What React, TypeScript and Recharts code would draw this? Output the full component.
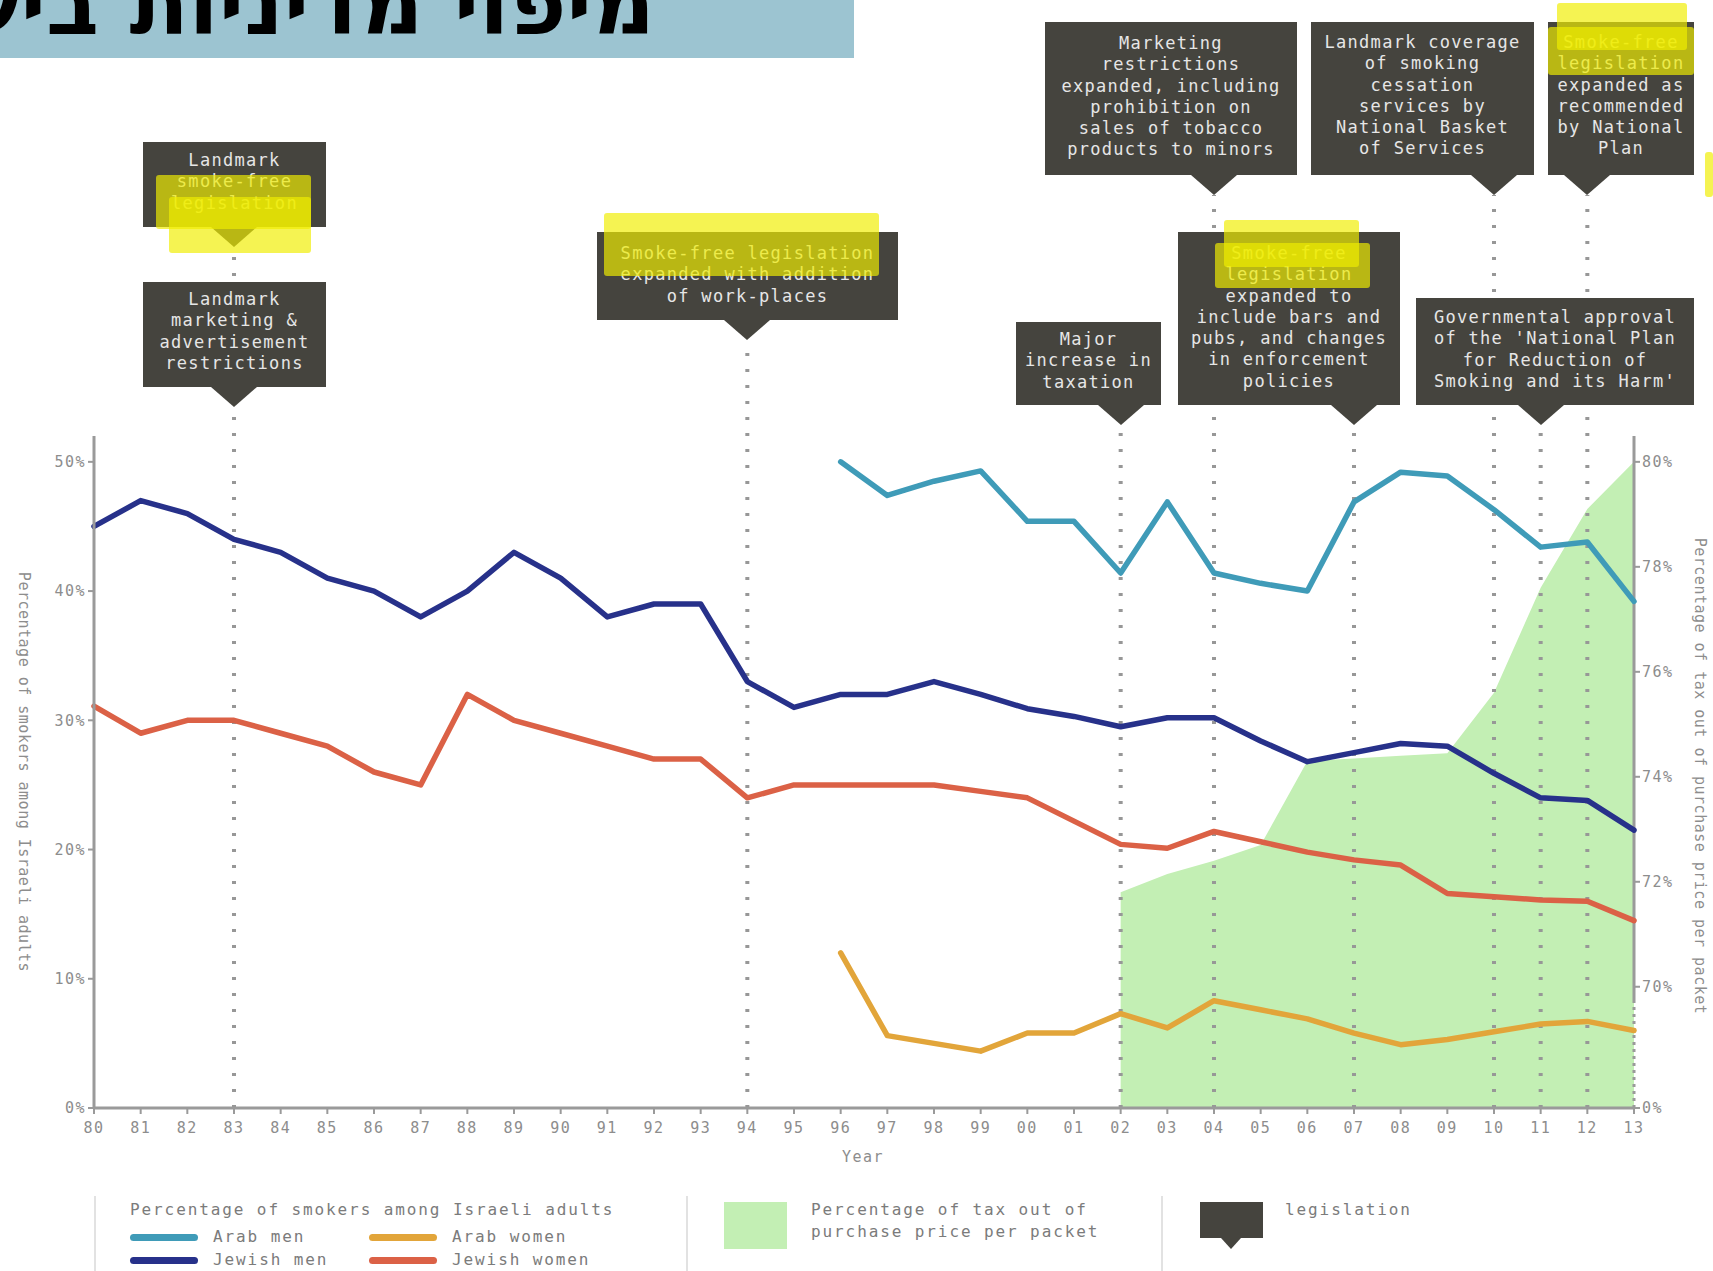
import React from 'react';
import { ComposedChart, Line, Area, XAxis, YAxis, ReferenceLine } from 'recharts';

// ---------------- data ----------------
const years = ['80','81','82','83','84','85','86','87','88','89','90','91','92','93','94','95','96','97','98','99','00','01','02','03','04','05','06','07','08','09','10','11','12','13'];

const arabMen = [null,null,null,null,null,null,null,null,null,null,null,null,null,null,null,null,
  50, 47.4, 48.5, 49.3, 45.4, 45.4, 41.4, 46.9, 41.4, 40.6, 40.0, 46.9, 49.2, 48.9, 46.3, 43.4, 43.8, 39.2];
const arabWomen = [null,null,null,null,null,null,null,null,null,null,null,null,null,null,null,null,
  12.0, 5.6, 5.0, 4.4, 5.8, 5.8, 7.3, 6.2, 8.3, 7.6, 6.9, 5.8, 4.9, 5.3, 5.9, 6.5, 6.7, 6.0];
const jewishMen = [45, 47, 46, 44, 43, 41, 40, 38, 40, 43,
  41, 38, 39, 39, 33, 31, 32, 32, 33, 32,
  30.9, 30.3, 29.5, 30.2, 30.2, 28.4, 26.8, 27.5, 28.2, 28.0,
  25.9, 24.0, 23.8, 21.5];
const jewishWomen = [31.1, 29, 30, 30, 29, 28, 26, 25, 32, 30,
  29, 28, 27, 27, 24, 25, 25, 25, 25, 24.5,
  24, 22.2, 20.4, 20.1, 21.4, 20.6, 19.8, 19.2, 18.8, 16.6,
  16.35, 16.1, 16.0, 14.5];
// tax share of packet price (%)
const taxShare = [null,null,null,null,null,null,null,null,null,null,null,null,null,null,null,null,null,null,null,null,null,null,
  71.8, 72.15, 72.4, 72.7, 74.3, 74.35, 74.4, 74.45, 75.6, 77.6, 79.1, 80];

const leftTicks = [0, 10, 20, 30, 40, 50];
const rightTicks = [0, 70, 72, 74, 76, 78, 80];

const series = [
  { key: 'arabMen', name: 'Arab men', color: '#3f9bb8' },
  { key: 'arabWomen', name: 'Arab women', color: '#e2a53a' },
  { key: 'jewishMen', name: 'Jewish men', color: '#27318a' },
  { key: 'jewishWomen', name: 'Jewish women', color: '#db6146' },
];
const legendOrder = [['arabMen', 'arabWomen'], ['jewishMen', 'jewishWomen']];

const legislationYears = ['83', '94', '02', '04', '07', '10', '11', '12'];

// ---------------- layout ----------------
const W = 1713;
const H = 1271;
const PLOT_LEFT = 94;
const PLOT_RIGHT = 1634;
const PLOT_TOP = 436;
const PLOT_BOTTOM = 1108;
const LEFT_MAX = 52;
const PX_PER_LEFT = (PLOT_BOTTOM - PLOT_TOP) / LEFT_MAX;

// broken right axis: 0..70 compressed into BREAK_SPAN units, 70..80 linear
const BREAK_SPAN = 2.31;
const toTaxAxis = (v: number | null) => (v == null ? null : v >= 70 ? BREAK_SPAN + (v - 70) : (v / 70) * BREAK_SPAN);
const RIGHT_MAX = (BREAK_SPAN + 10) * LEFT_MAX / 50;
const RIGHT_SOLID_FROM = 2.0;

const pxToLeft = (py: number) => (PLOT_BOTTOM - py) / PX_PER_LEFT;
const xOf = (year: string) => PLOT_LEFT + years.indexOf(year) * (PLOT_RIGHT - PLOT_LEFT) / (years.length - 1);

const legislationTopPx: Record<string, number> = { '83': 250, '94': 340, '02': 426, '04': 195, '07': 426, '10': 195, '11': 426, '12': 195 };

const data = years.map((y, i) => ({
  year: y,
  arabMen: arabMen[i],
  arabWomen: arabWomen[i],
  jewishMen: jewishMen[i],
  jewishWomen: jewishWomen[i],
  tax: toTaxAxis(taxShare[i]),
}));

const MONO = "'DejaVu Sans Mono', 'Liberation Mono', monospace";
const BOX = '#45443e';

type Callout = { year: string; left: number; top: number; width: number; height: number; padTop: number; lines: string[] };
const callouts: Callout[] = [
  { year: '83', left: 143, top: 142, width: 183, height: 85, padTop: 8, lines: ['Landmark', 'smoke-free', 'legislation'] },
  { year: '83', left: 143, top: 282, width: 183, height: 105, padTop: 7, lines: ['Landmark', 'marketing &', 'advertisement', 'restrictions'] },
  { year: '94', left: 597, top: 232, width: 301, height: 88, padTop: 11, lines: ['Smoke-free legislation', 'expanded with addition', 'of work-places'] },
  { year: '02', left: 1016, top: 322, width: 145, height: 83, padTop: 7, lines: ['Major', 'increase in', 'taxation'] },
  { year: '04', left: 1045, top: 22, width: 252, height: 153, padTop: 11, lines: ['Marketing', 'restrictions', 'expanded, including', 'prohibition on', 'sales of tobacco', 'products to minors'] },
  { year: '07', left: 1178, top: 232, width: 222, height: 173, padTop: 11, lines: ['Smoke-free', 'legislation', 'expanded to', 'include bars and', 'pubs, and changes', 'in enforcement', 'policies'] },
  { year: '10', left: 1311, top: 22, width: 223, height: 153, padTop: 10, lines: ['Landmark coverage', 'of smoking', 'cessation', 'services by', 'National Basket', 'of Services'] },
  { year: '12', left: 1548, top: 22, width: 146, height: 153, padTop: 10, lines: ['Smoke-free', 'legislation', 'expanded as', 'recommended', 'by National', 'Plan'] },
  { year: '11', left: 1416, top: 298, width: 278, height: 107, padTop: 9, lines: ['Governmental approval', "of the 'National Plan", 'for Reduction of', "Smoking and its Harm'"] },
];

const highlights = [
  [156, 175, 155, 54], [169, 197, 142, 56],
  [604, 213, 275, 63],
  [1224, 220, 135, 47], [1215, 243, 155, 45],
  [1557, 3, 130, 47], [1548, 27, 146, 48],
  [1705, 152, 8, 45],
];

const textStyle: React.CSSProperties = { fontFamily: MONO, fontSize: 16, letterSpacing: 1.9, whiteSpace: 'nowrap' };
const boxTextStyle: React.CSSProperties = { fontFamily: MONO, fontSize: 17, letterSpacing: 1.3, whiteSpace: 'nowrap' };

function CalloutBox({ c }: { c: Callout }) {
  const px = xOf(c.year);
  return (
    <>
      <div style={{ position: 'absolute', left: c.left, top: c.top, width: c.width, height: c.height, background: BOX, boxSizing: 'border-box', paddingTop: c.padTop, color: '#e6e6e6', textAlign: 'center', ...boxTextStyle, lineHeight: '21.3px' }}>
        {c.lines.map((l, i) => <div key={i}>{l}</div>)}
      </div>
      <div style={{ position: 'absolute', left: px - 23, top: c.top + c.height, width: 0, height: 0, borderLeft: '23px solid transparent', borderRight: '23px solid transparent', borderTop: `20px solid ${BOX}` }} />
    </>
  );
}

const tickStyle = { fontFamily: MONO, fontSize: 15, letterSpacing: 1.5, fill: '#8d8d8d' };
const axisTitleStyle = { fontFamily: MONO, fontSize: 15, letterSpacing: 0.5, fill: '#8d8d8d' };

export default function App() {
  const rightLabel = (v: number) => {
    const t = rightTicks.find((r) => Math.abs((toTaxAxis(r) as number) - v) < 1e-6);
    return `${t}%`;
  };
  return (
    <div style={{ position: 'absolute', left: 0, top: 0, width: W, height: H, background: '#fff', overflow: 'hidden' }}>
      {/* title banner */}
      <div style={{ position: 'absolute', left: 0, top: 0, width: 854, height: 58, background: '#9cc4d1', overflow: 'hidden' }}>
        <div dir="rtl" style={{ position: 'absolute', right: 854 - 655, top: -39, fontFamily: "'DejaVu Sans', sans-serif", fontWeight: 'bold', fontSize: 87, lineHeight: '87px', color: '#000', whiteSpace: 'nowrap' }}>
          מיפוי מדיניות בישראל
        </div>
      </div>

      <div style={{ position: 'absolute', left: 0, top: 0 }}>
        <ComposedChart width={W} height={H} data={data} margin={{ top: PLOT_TOP, right: 0, bottom: 0, left: 0 }}>
          <XAxis dataKey="year" scale="point" padding={{ left: 0, right: 0 }} interval={0} height={H - PLOT_BOTTOM}
            tick={tickStyle} tickSize={6} tickMargin={8}
            axisLine={{ stroke: '#9a9a9a', strokeWidth: 3 }} tickLine={{ stroke: '#9a9a9a', strokeWidth: 2 }}
            label={() => (
              <text x={863} y={1162} textAnchor="middle" style={{ fontFamily: MONO, fontSize: 15, letterSpacing: 1.5, fill: '#8d8d8d' }}>Year</text>
            )} />
          <YAxis yAxisId="left" orientation="left" width={PLOT_LEFT} domain={[0, LEFT_MAX]} allowDataOverflow ticks={leftTicks}
            tickFormatter={(v: number) => `${v}%`} tick={tickStyle} tickSize={6} tickMargin={2}
            axisLine={{ stroke: '#9a9a9a', strokeWidth: 3 }} tickLine={{ stroke: '#9a9a9a', strokeWidth: 2 }}
            label={() => (
              <text transform={`translate(24, ${(PLOT_TOP + PLOT_BOTTOM) / 2}) rotate(90)`} textAnchor="middle" dominantBaseline="central"
                style={axisTitleStyle}>Percentage of smokers among Israeli adults</text>
            )} />
          <YAxis yAxisId="right" orientation="right" width={W - PLOT_RIGHT} domain={[0, RIGHT_MAX]} allowDataOverflow
            ticks={rightTicks.map((r) => toTaxAxis(r) as number)} tickFormatter={rightLabel}
            tick={tickStyle} tickSize={6} tickMargin={2} axisLine={false} tickLine={{ stroke: '#9a9a9a', strokeWidth: 2 }}
            label={() => (
              <text transform={`translate(1700, ${(PLOT_TOP + PLOT_BOTTOM) / 2 + 4}) rotate(90)`} textAnchor="middle" dominantBaseline="central"
                style={axisTitleStyle}>Percentage of tax out of purchase price per packet</text>
            )} />

          <Area yAxisId="right" dataKey="tax" type="linear" fill="#c3efb4" fillOpacity={1} stroke="none" isAnimationActive={false} connectNulls={false} />

          {legislationYears.map((y) => (
            <ReferenceLine key={y} yAxisId="left" ifOverflow="visible"
              segment={[{ x: y, y: 0 }, { x: y, y: pxToLeft(legislationTopPx[y]) }]}
              stroke="#979797" strokeWidth={4} strokeDasharray="3 13" />
          ))}
          <ReferenceLine yAxisId="right" ifOverflow="visible" segment={[{ x: '13', y: 0 }, { x: '13', y: RIGHT_SOLID_FROM }]}
            stroke="#9a9a9a" strokeWidth={3} strokeDasharray="3 4" />
          <ReferenceLine yAxisId="right" ifOverflow="visible" segment={[{ x: '13', y: RIGHT_SOLID_FROM }, { x: '13', y: RIGHT_MAX }]}
            stroke="#9a9a9a" strokeWidth={3} />

          {series.map((s) => (
            <Line key={s.key} yAxisId="left" dataKey={s.key} name={s.name} type="linear" stroke={s.color} strokeWidth={5.5}
              strokeLinejoin="round" strokeLinecap="round" dot={false} activeDot={false} isAnimationActive={false} connectNulls={false} />
          ))}
        </ComposedChart>
      </div>

      {/* legislation callouts */}
      {callouts.map((c, i) => <CalloutBox key={i} c={c} />)}

      {/* highlighter marks */}
      {highlights.map(([x, y, w, h], i) => (
        <div key={i} style={{ position: 'absolute', left: x, top: y, width: w, height: h, background: 'rgba(240,238,0,0.68)', borderRadius: 3 }} />
      ))}

      {/* legend */}
      {[94, 686, 1161].map((x) => (
        <div key={x} style={{ position: 'absolute', left: x, top: 1196, width: 2, height: 75, background: '#e2e2e2' }} />
      ))}
      <div style={{ position: 'absolute', left: 130, top: 1199, color: '#7b7b7b', ...textStyle, lineHeight: '22px' }}>
        Percentage of smokers among Israeli adults
      </div>
      {legendOrder.map((row, ri) => row.map((k, ci) => {
        const s = series.find((q) => q.key === k)!;
        const top = ri === 0 ? 1237 : 1260;
        const left = ci === 0 ? 130 : 369;
        return (
          <React.Fragment key={k}>
            <div style={{ position: 'absolute', left, top: top - 3.5, width: 68, height: 7, borderRadius: 4, background: s.color }} />
            <div style={{ position: 'absolute', left: left + 83, top: top - 11, color: '#7b7b7b', ...textStyle, lineHeight: '22px' }}>{s.name}</div>
          </React.Fragment>
        );
      }))}
      <div style={{ position: 'absolute', left: 724, top: 1202, width: 63, height: 47, background: '#c3efb4' }} />
      <div style={{ position: 'absolute', left: 811, top: 1199, color: '#7b7b7b', ...textStyle, lineHeight: '22px' }}>
        <div>Percentage of tax out of</div>
        <div>purchase price per packet</div>
      </div>
      <div style={{ position: 'absolute', left: 1200, top: 1202, width: 63, height: 36, background: BOX }} />
      <div style={{ position: 'absolute', left: 1221, top: 1238, width: 0, height: 0, borderLeft: '10px solid transparent', borderRight: '10px solid transparent', borderTop: `11px solid ${BOX}` }} />
      <div style={{ position: 'absolute', left: 1285, top: 1199, color: '#7b7b7b', ...textStyle, lineHeight: '22px' }}>legislation</div>
    </div>
  );
}
